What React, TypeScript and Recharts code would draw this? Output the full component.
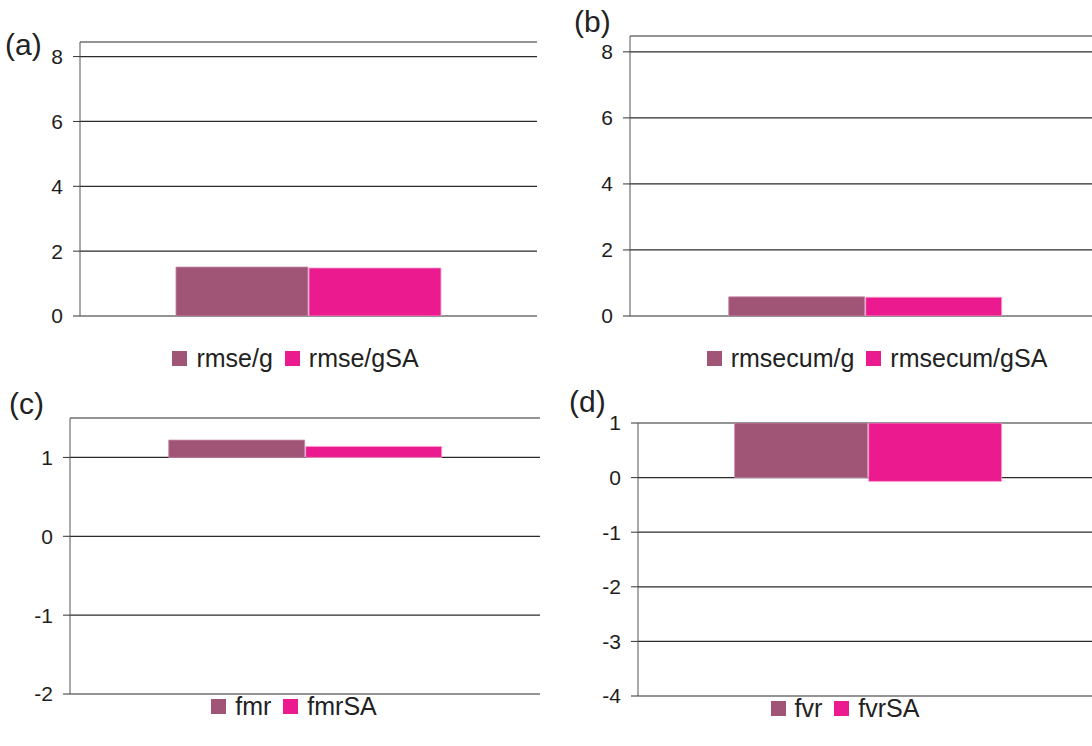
import { BarChart, Bar, XAxis, YAxis, CartesianGrid, Legend } from 'recharts';

// one category per panel
const categories = ['run'];

// (a) and (b): bars grow from 0
const rmseG = [1.51];
const rmseGSA = [1.48];
const rmsecumG = [0.58];
const rmsecumGSA = [0.57];

// (c) and (d): the category axis crosses at 1, bars grow from there
const fmr = [1.22];
const fmrSA = [1.14];
const fvr = [0.0];
const fvrSA = [-0.07];
const crossAt = 1;

const ticksA = [0, 2, 4, 6, 8];
const ticksC = [-2, -1, 0, 1];
const ticksD = [-4, -3, -2, -1, 0, 1];

const PURPLE = '#a05577';
const PINK = '#ec1a8f';
const FONT = '"Liberation Sans", Arial, sans-serif';

// tick labels: bigger and darker than recharts' defaults
const AXIS_CSS = `
.tick-panel .recharts-cartesian-axis-tick-value {
    font-size: 21px;
    font-family: "Liberation Sans", Arial, sans-serif;
    fill: #1e1e1e;
}
`;

const span = (v: number, base: number) => [Math.min(base, v), Math.max(base, v)];

const makeLegend = (shift: number, height: number, padTop: number) => (props: any) => {
    const payload = props.payload || [];
    return (
        <div
            style={{
                height,
                paddingTop: padTop,
                boxSizing: 'border-box',
                display: 'flex',
                justifyContent: 'center',
                alignItems: 'flex-start',
                transform: `translateX(${shift}px)`,
                fontFamily: FONT,
                fontSize: 25,
                lineHeight: '24px',
                color: '#222'
            }}
        >
            {payload.map((item: any, index: number) => (
                <div key={index} style={{ display: 'flex', alignItems: 'center', marginRight: 12 }}>
                    <div style={{ width: 15, height: 15, backgroundColor: item.color, marginRight: 9 }} />
                    <span>{item.value}</span>
                </div>
            ))}
        </div>
    );
};

interface PanelProps {
    label: string;
    labelPos: { left: number; top: number };
    left: number;
    top: number;
    width: number;
    height: number;
    marginTop: number;
    marginRight: number;
    axisWidth: number;
    domain: [number, number];
    ticks: number[];
    data: any[];
    names: [string, string];
    legendShift: number;
    legendHeight: number;
    legendPad: number;
    bottomBorder?: boolean;
}

function Panel(p: PanelProps) {
    return (
        <>
            <div
                style={{
                    position: 'absolute',
                    left: p.labelPos.left,
                    top: p.labelPos.top,
                    fontFamily: FONT,
                    fontSize: 30,
                    lineHeight: '30px',
                    color: '#222'
                }}
            >
                {p.label}
            </div>
            <div className="tick-panel" style={{ position: 'absolute', left: p.left, top: p.top }}>
                <BarChart
                    width={p.width}
                    height={p.height}
                    data={p.data}
                    margin={{ top: p.marginTop, right: p.marginRight, left: 0, bottom: 0 }}
                    barCategoryGap="21%"
                    barGap={1}
                >
                    <CartesianGrid vertical={false} stroke="#2a2a2a" strokeWidth={1.2} />
                    <XAxis
                        dataKey="name"
                        tick={false}
                        tickLine={false}
                        height={0}
                        axisLine={p.bottomBorder ? { stroke: '#8a8f96' } : false}
                    />
                    <XAxis
                        xAxisId="top"
                        dataKey="name"
                        orientation="top"
                        tick={false}
                        tickLine={false}
                        height={0}
                        axisLine={{ stroke: '#9aa0a8' }}
                    />
                    <YAxis
                        domain={p.domain}
                        ticks={p.ticks}
                        allowDataOverflow
                        width={p.axisWidth}
                        tickSize={7}
                        tickMargin={10}
                        fontSize={21}
                        axisLine={{ stroke: '#555' }}
                        tickLine={{ stroke: '#333' }}
                        tick={{ fill: '#1e1e1e', fontSize: 21 }}
                    />
                    <YAxis
                        yAxisId="right"
                        orientation="right"
                        domain={p.domain}
                        width={0}
                        tick={false}
                        tickLine={false}
                        axisLine={{ stroke: '#8a8f96' }}
                    />
                    <Legend
                        verticalAlign="bottom"
                        content={makeLegend(p.legendShift, p.legendHeight, p.legendPad)}
                    />
                    <Bar dataKey="s1" name={p.names[0]} fill={PURPLE} stroke="#c98aa8" strokeWidth={0.8} isAnimationActive={false} />
                    <Bar dataKey="s2" name={p.names[1]} fill={PINK} stroke="#f6a3cc" strokeWidth={0.8} isAnimationActive={false} />
                </BarChart>
            </div>
        </>
    );
}

export default function App() {
    const dataA = categories.map((name, i) => ({ name, s1: rmseG[i], s2: rmseGSA[i] }));
    const dataB = categories.map((name, i) => ({ name, s1: rmsecumG[i], s2: rmsecumGSA[i] }));
    const dataC = categories.map((name, i) => ({ name, s1: span(fmr[i], crossAt), s2: span(fmrSA[i], crossAt) }));
    const dataD = categories.map((name, i) => ({ name, s1: span(fvr[i], crossAt), s2: span(fvrSA[i], crossAt) }));

    return (
        <div
            style={{
                position: 'absolute',
                left: 0,
                top: 0,
                width: 1092,
                height: 746,
                overflow: 'hidden',
                background: '#fff'
            }}
        >
            <style>{AXIS_CSS}</style>
            <Panel
                label="(a)"
                labelPos={{ left: 5, top: 30 }}
                left={0}
                top={0}
                width={546}
                height={400}
                marginTop={42}
                marginRight={9}
                axisWidth={80}
                domain={[0, 8.45]}
                ticks={ticksA}
                data={dataA}
                names={['rmse/g', 'rmse/gSA']}
                legendShift={33}
                legendHeight={84}
                legendPad={30}
            />
            <Panel
                label="(b)"
                labelPos={{ left: 574, top: 7 }}
                left={550}
                top={0}
                width={550}
                height={400}
                marginTop={36}
                marginRight={0}
                axisWidth={80}
                domain={[0, 8.48]}
                ticks={ticksA}
                data={dataB}
                names={['rmsecum/g', 'rmsecum/gSA']}
                legendShift={58}
                legendHeight={84}
                legendPad={30}
            />
            <Panel
                label="(c)"
                labelPos={{ left: 9, top: 389 }}
                left={0}
                top={390}
                width={540}
                height={356}
                marginTop={28}
                marginRight={0}
                axisWidth={70}
                domain={[-2, 1.5]}
                ticks={ticksC}
                data={dataC}
                names={['fmr', 'fmrSA']}
                legendShift={30}
                legendHeight={52}
                legendPad={0}
                bottomBorder
            />
            <Panel
                label="(d)"
                labelPos={{ left: 569, top: 387 }}
                left={558}
                top={390}
                width={540}
                height={356}
                marginTop={33}
                marginRight={0}
                axisWidth={80}
                domain={[-4, 1]}
                ticks={ticksD}
                data={dataD}
                names={['fvr', 'fvrSA']}
                legendShift={23}
                legendHeight={50}
                legendPad={0}
            />
        </div>
    );
}
